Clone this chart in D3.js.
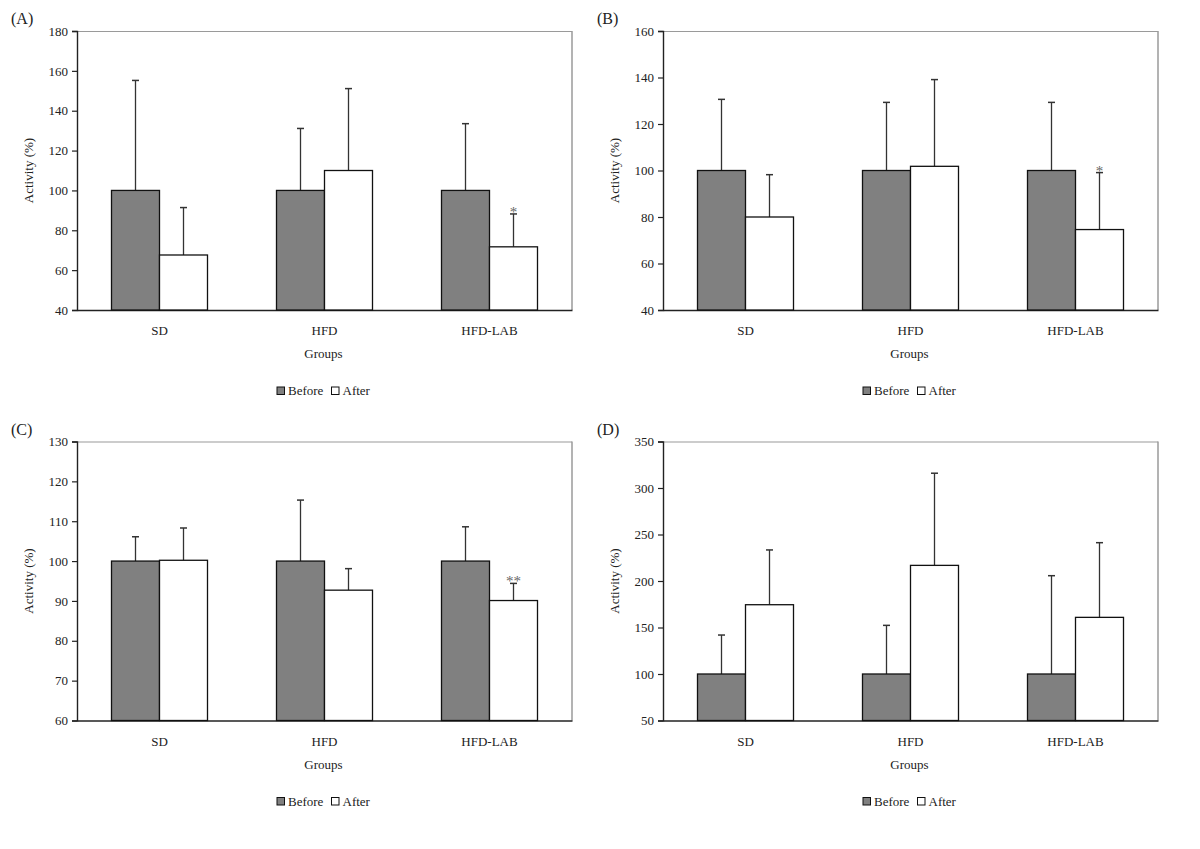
<!DOCTYPE html>
<html>
<head>
<meta charset="utf-8">
<script src="https://cdn.jsdelivr.net/npm/d3@7"></script>
<style>
  html, body { margin: 0; padding: 0; background: #fff; }
  svg { display: block; font-family: "Liberation Serif", "Times New Roman", serif; }
</style>
</head>
<body>
<svg id="chart" width="1200" height="849"></svg>
<script>
// ---------- data ----------
const groups = ["SD", "HFD", "HFD-LAB"];
const series = ["Before", "After"];

const panelLabels = ["(A)", "(B)", "(C)", "(D)"];

const beforeA = [100, 100, 100];
const afterA  = [67.6, 110.0, 71.7];
const beforeErrA = [155.2, 131.1, 133.5];
const afterErrA  = [91.4, 151.1, 88.2];
const signifA = ["", "", "*"];
const ticksA = [40, 60, 80, 100, 120, 140, 160, 180];

const beforeB = [100, 100, 100];
const afterB  = [80.0, 101.8, 74.6];
const beforeErrB = [130.6, 129.3, 129.3];
const afterErrB  = [98.2, 139.1, 99.1];
const signifB = ["", "", "*"];
const ticksB = [40, 60, 80, 100, 120, 140, 160];

const beforeC = [100, 100, 100];
const afterC  = [100.2, 92.7, 90.1];
const beforeErrC = [106.1, 115.3, 108.6];
const afterErrC  = [108.3, 98.1, 94.4];
const signifC = ["", "", "**"];
const ticksC = [60, 70, 80, 90, 100, 110, 120, 130];

const beforeD = [100, 100, 100];
const afterD  = [174.5, 216.8, 160.9];
const beforeErrD = [141.9, 152.3, 205.7];
const afterErrD  = [233.4, 315.9, 241.2];
const signifD = ["", "", ""];
const ticksD = [50, 100, 150, 200, 250, 300, 350];

const yTitle = "Activity (%)";
const xTitle = "Groups";
const colors = { Before: "#808080", After: "#ffffff" };

// ---------- layout ----------
const panels = [
  { label: panelLabels[0], before: beforeA, after: afterA, bErr: beforeErrA, aErr: afterErrA, sig: signifA, ticks: ticksA, x: 77,  y: 31 },
  { label: panelLabels[1], before: beforeB, after: afterB, bErr: beforeErrB, aErr: afterErrB, sig: signifB, ticks: ticksB, x: 663, y: 31 },
  { label: panelLabels[2], before: beforeC, after: afterC, bErr: beforeErrC, aErr: afterErrC, sig: signifC, ticks: ticksC, x: 77,  y: 441.5 },
  { label: panelLabels[3], before: beforeD, after: afterD, bErr: beforeErrD, aErr: afterErrD, sig: signifD, ticks: ticksD, x: 663, y: 441.5 }
];
const W = 495, H = 279;

const svg = d3.select("#chart");

panels.forEach(p => {
  const g = svg.append("g").attr("transform", `translate(${p.x},${p.y})`);

  const x0 = d3.scaleBand().domain(groups).range([0, W]).padding(0);
  const x1 = d3.scaleBand().domain(series).range([0, x0.bandwidth()])
    .paddingInner(0).paddingOuter(0.71875);
  const y = d3.scaleLinear().domain(d3.extent(p.ticks)).range([H, 0]);

  // frame: top and right gray
  g.append("line").attr("x1", 0).attr("x2", W).attr("y1", 0.5).attr("y2", 0.5)
    .attr("stroke", "#9a9a9a").attr("stroke-width", 1.2);
  g.append("line").attr("x1", W).attr("x2", W).attr("y1", 0).attr("y2", H)
    .attr("stroke", "#9a9a9a").attr("stroke-width", 1.5);

  // y axis
  const yAxis = g.append("g").call(
    d3.axisLeft(y).tickValues(p.ticks).tickSize(5).tickPadding(4).tickFormat(d3.format("d"))
  );
  yAxis.select(".domain").attr("stroke", "#222").attr("stroke-width", 1.4);
  yAxis.selectAll(".tick line").attr("stroke", "#222").attr("stroke-width", 1.2);
  yAxis.selectAll("text").attr("font-size", 13).attr("fill", "#222")
    .attr("font-family", "Liberation Serif, Times New Roman, serif");

  // x axis
  const xAxis = g.append("g").attr("transform", `translate(0,${H})`).call(
    d3.axisBottom(x0).tickSize(0).tickPadding(16)
  );
  xAxis.select(".domain").attr("stroke", "#222").attr("stroke-width", 1.4);
  xAxis.selectAll("text").attr("font-size", 13).attr("fill", "#222")
    .attr("font-family", "Liberation Serif, Times New Roman, serif");

  // bars
  const rows = groups.map((grp, i) => ({
    grp,
    vals: [
      { s: "Before", v: p.before[i], e: p.bErr[i], sig: "" },
      { s: "After",  v: p.after[i],  e: p.aErr[i], sig: p.sig[i] }
    ]
  }));

  const gg = g.selectAll(".grp").data(rows).enter().append("g")
    .attr("transform", d => `translate(${x0(d.grp)},0)`);

  // error bars (behind bars)
  const eb = gg.selectAll(".err").data(d => d.vals).enter().append("g");
  eb.append("line")
    .attr("x1", d => x1(d.s) + x1.bandwidth() / 2)
    .attr("x2", d => x1(d.s) + x1.bandwidth() / 2)
    .attr("y1", d => y(d.v)).attr("y2", d => y(d.e))
    .attr("stroke", "#333").attr("stroke-width", 1.3);
  eb.append("line")
    .attr("x1", d => x1(d.s) + x1.bandwidth() / 2 - 3.5)
    .attr("x2", d => x1(d.s) + x1.bandwidth() / 2 + 3.5)
    .attr("y1", d => y(d.e)).attr("y2", d => y(d.e))
    .attr("stroke", "#333").attr("stroke-width", 1.5);
  eb.filter(d => d.sig).append("text")
    .attr("x", d => x1(d.s) + x1.bandwidth() / 2)
    .attr("y", d => y(d.e) + 3)
    .attr("text-anchor", "middle")
    .attr("font-size", 15).attr("fill", "#666")
    .text(d => d.sig);

  gg.selectAll("rect").data(d => d.vals).enter().append("rect")
    .attr("x", d => x1(d.s))
    .attr("width", x1.bandwidth())
    .attr("y", d => y(d.v))
    .attr("height", d => H - y(d.v))
    .attr("fill", d => colors[d.s])
    .attr("stroke", "#111").attr("stroke-width", 1.3);

  // titles
  g.append("text").attr("transform", `translate(-44,${H / 2}) rotate(-90)`)
    .attr("text-anchor", "middle").attr("font-size", 13).attr("fill", "#222")
    .text(yTitle);
  g.append("text").attr("x", W / 2 - 1).attr("y", H + 48)
    .attr("text-anchor", "middle").attr("font-size", 13).attr("fill", "#222")
    .text(xTitle);

  // panel label
  g.append("text").attr("x", -66).attr("y", -7)
    .attr("font-size", 16).attr("fill", "#222").text(p.label);

  // legend
  const lg = g.append("g").attr("transform", `translate(${W / 2 - 47.5},${H + 85})`);
  const items = [
    { s: "Before", dx: 0, tx: 11 },
    { s: "After", dx: 54.5, tx: 65.5 }
  ];
  items.forEach(it => {
    lg.append("rect").attr("x", it.dx).attr("y", -8).attr("width", 7.5).attr("height", 7.5)
      .attr("fill", colors[it.s]).attr("stroke", "#111").attr("stroke-width", 1);
    lg.append("text").attr("x", it.tx).attr("y", 0).attr("font-size", 13).attr("fill", "#222")
      .text(it.s);
  });
});
</script>
</body>
</html>
